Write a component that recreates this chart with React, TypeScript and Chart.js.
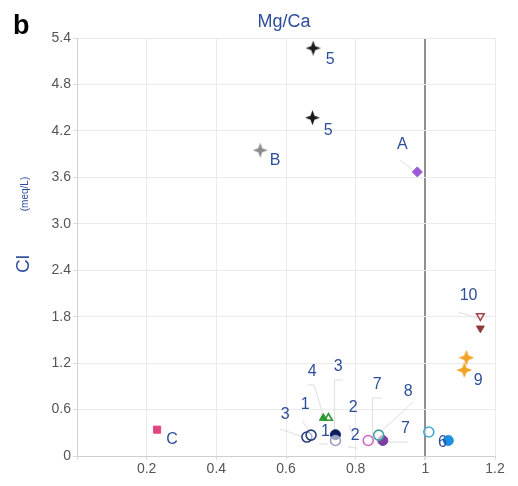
import React, { useEffect, useRef } from 'react';
import { Chart, registerables } from 'chart.js';

Chart.register(...registerables);

// ---- axis ranges / ticks ----
const xRange = [0, 1.2];
const xStep = 0.2;
const yRange = [0, 5.4];
const yStep = 0.6;

// ---- series (x = Mg/Ca, y = Cl meq/L) ----
const site5 = [{ x: 0.678, y: 5.27 }, { x: 0.676, y: 4.37 }];
const siteB = [{ x: 0.526, y: 3.95 }];
const siteA = [{ x: 0.977, y: 3.67 }];
const siteC = [{ x: 0.23, y: 0.34 }];
const site10Open = [{ x: 1.158, y: 1.81 }];
const site10Filled = [{ x: 1.158, y: 1.65 }];
const site9 = [{ x: 1.118, y: 1.27 }, { x: 1.112, y: 1.11 }];
const site3 = [{ x: 0.66, y: 0.245 }, { x: 0.672, y: 0.27 }];
const site4Filled = [{ x: 0.707, y: 0.49 }];
const site4Open = [{ x: 0.722, y: 0.49 }];
const site1Open = [{ x: 0.742, y: 0.2 }];
const site1Filled = [{ x: 0.742, y: 0.275 }];
const site2Open = [{ x: 0.836, y: 0.2 }];
const site8Open = [{ x: 0.866, y: 0.27 }];
const site2Filled = [{ x: 0.878, y: 0.2 }];
const site7Open = [{ x: 1.01, y: 0.31 }];
const site6Filled = [{ x: 1.066, y: 0.2 }];

// ---- point annotations (data units) ----
const labelTexts = ['5', '5', 'B', 'A', 'C', '10', '9', '3', '1', '4', '3', '2', '1', '2', '7', '8', '7', '6'];
const labelX = [0.727, 0.721, 0.569, 0.934, 0.273, 1.124, 1.152, 0.598, 0.655, 0.675, 0.75, 0.793, 0.713, 0.799, 0.862, 0.951, 0.943, 1.049];
const labelY = [5.12, 4.21, 3.82, 4.02, 0.21, 2.07, 0.98, 0.53, 0.66, 1.09, 1.15, 0.62, 0.31, 0.27, 0.92, 0.83, 0.36, 0.17];

// leader lines: polyline vertices in data units
const leaderLines: number[][][] = [
  [[0.928, 3.82], [0.966, 3.69]],
  [[0.661, 0.917], [0.681, 0.917], [0.707, 0.517]],
  [[0.764, 0.982], [0.739, 0.982], [0.739, 0.336]],
  [[0.583, 0.349], [0.649, 0.245]],
  [[0.647, 0.452], [0.664, 0.336]],
  [[0.782, 0.4], [0.796, 0.2]],
  [[0.695, 0.155], [0.72, 0.155]],
  [[0.876, 0.75], [0.848, 0.75], [0.848, 0.207]],
  [[0.966, 0.7], [0.871, 0.31]],
  [[0.894, 0.18], [0.951, 0.18]],
  [[1.095, 1.86], [1.149, 1.78]],
  [[0.776, 0.12], [0.805, 0.1]],
];

const FONT = '"Liberation Sans", Arial, Helvetica, sans-serif';
const BLUE = '#2d4e9a';

function makeSparkle(color: string, size: number) {
  const c = document.createElement('canvas');
  c.width = size;
  c.height = size;
  const ctx = c.getContext('2d')!;
  const cx = size / 2;
  const R = size / 2;
  const r = size * 0.19;
  ctx.beginPath();
  for (let i = 0; i < 8; i++) {
    const a = -Math.PI / 2 + (i * Math.PI) / 4;
    const rad = i % 2 === 0 ? R : r;
    ctx.lineTo(cx + rad * Math.cos(a), cx + rad * Math.sin(a));
  }
  ctx.closePath();
  ctx.fillStyle = color;
  ctx.fill();
  return c;
}

const overlayPlugin = {
  id: 'overlay',
  beforeDatasetsDraw(chart: any) {
    const { ctx, scales } = chart;
    const xs = scales.x;
    const ys = scales.y;
    ctx.save();
    ctx.strokeStyle = '#dedede';
    ctx.lineWidth = 1;
    leaderLines.forEach((pl) => {
      ctx.beginPath();
      pl.forEach((p, i) => {
        const px = xs.getPixelForValue(p[0]);
        const py = ys.getPixelForValue(p[1]);
        if (i === 0) ctx.moveTo(px, py);
        else ctx.lineTo(px, py);
      });
      ctx.stroke();
    });
    ctx.restore();
  },
  afterDraw(chart: any) {
    const { ctx, scales, chartArea } = chart;
    const xs = scales.x;
    const ys = scales.y;
    ctx.save();
    // point labels
    ctx.fillStyle = BLUE;
    ctx.font = `16px ${FONT}`;
    ctx.textAlign = 'center';
    ctx.textBaseline = 'middle';
    labelTexts.forEach((t, i) => {
      ctx.fillText(t, xs.getPixelForValue(labelX[i]), ys.getPixelForValue(labelY[i]));
    });
    // title
    ctx.font = `18px ${FONT}`;
    ctx.textBaseline = 'alphabetic';
    ctx.fillText('Mg/Ca', (chartArea.left + chartArea.right) / 2 - 2, 27);
    // panel letter
    ctx.fillStyle = '#000';
    ctx.font = `bold 27px ${FONT}`;
    ctx.textAlign = 'left';
    ctx.fillText('b', 13, 34);
    // y-axis titles (rotated)
    ctx.fillStyle = BLUE;
    ctx.save();
    ctx.translate(24, 264);
    ctx.rotate(-Math.PI / 2);
    ctx.textAlign = 'center';
    ctx.textBaseline = 'middle';
    ctx.font = `19px ${FONT}`;
    ctx.fillText('Cl', 0, 0);
    ctx.restore();
    ctx.save();
    ctx.translate(25, 194);
    ctx.rotate(-Math.PI / 2);
    ctx.textAlign = 'center';
    ctx.textBaseline = 'middle';
    ctx.font = `10px ${FONT}`;
    ctx.fillText('(meq/L)', 0, 0);
    ctx.restore();
    ctx.restore();
  },
};

export default function App() {
  const ref = useRef<HTMLCanvasElement | null>(null);

  useEffect(() => {
    if (!ref.current) return;
    const starBlack = makeSparkle('#1b1b1b', 15);
    const starGray = makeSparkle('#8c8c8c', 15);
    const starOrange = makeSparkle('#f2a224', 16);

    const circleOpen = (color: string, data: any[]) => ({
      data,
      pointStyle: 'circle',
      pointRadius: 5,
      backgroundColor: 'rgba(255,255,255,0.6)',
      borderColor: color,
      borderWidth: 1.6,
    });
    const circleFilled = (color: string, data: any[]) => ({
      data,
      pointStyle: 'circle',
      pointRadius: 5,
      backgroundColor: color,
      borderColor: color,
      borderWidth: 1,
    });

    const chart = new Chart(ref.current, {
      type: 'scatter',
      data: {
        datasets: [
          { data: site5, pointStyle: starBlack, pointRadius: 7 },
          { data: siteB, pointStyle: starGray, pointRadius: 7 },
          { data: siteA, pointStyle: 'rectRot', pointRadius: 5, backgroundColor: '#9b5ad8', borderColor: '#9b5ad8' },
          { data: siteC, pointStyle: 'rect', pointRadius: 5, backgroundColor: '#e2447f', borderColor: '#e2447f' },
          { data: site10Open, pointStyle: 'triangle', rotation: 180, pointRadius: 4.5, backgroundColor: '#fff', borderColor: '#a5474a', borderWidth: 1.5 },
          { data: site10Filled, pointStyle: 'triangle', rotation: 180, pointRadius: 4.5, backgroundColor: '#8e3a3c', borderColor: '#8e3a3c' },
          { data: site9, pointStyle: starOrange, pointRadius: 7 },
          circleOpen('#283f7a', site3),
          { data: site4Filled, pointStyle: 'triangle', pointRadius: 4.5, backgroundColor: '#2a9a2e', borderColor: '#2a9a2e' },
          { data: site4Open, pointStyle: 'triangle', pointRadius: 4.5, backgroundColor: '#fff', borderColor: '#2a9a2e', borderWidth: 1.6 },
          circleOpen('#9a9ccc', site1Open),
          circleFilled('#0c1c5c', site1Filled),
          circleOpen('#d265c8', site2Open),
          circleOpen('#3fa4a0', site8Open),
          circleFilled('#7c3e9e', site2Filled),
          circleOpen('#44a9d8', site7Open),
          circleFilled('#1b8fe2', site6Filled),
        ],
      },
      options: {
        animation: false,
        responsive: false,
        devicePixelRatio: 1,
        layout: { padding: { top: 38, right: 23, left: 0, bottom: 0 } },
        plugins: { legend: { display: false }, tooltip: { enabled: false }, title: { display: false } },
        scales: {
          x: {
            type: 'linear',
            min: xRange[0],
            max: xRange[1],
            ticks: {
              stepSize: xStep,
              color: '#555',
              font: { family: FONT, size: 14 },
              padding: 1,
              maxRotation: 0,
              callback: (v: any) => (Math.abs(v) < 1e-9 ? '' : String(Math.round(v * 10) / 10)),
            },
            grid: {
              color: (c: any) => (c.tick && Math.abs(c.tick.value - 1) < 1e-9 ? '#8f8f8f' : '#ebebeb'),
              lineWidth: (c: any) => (c.tick && Math.abs(c.tick.value - 1) < 1e-9 ? 2 : 1),
              tickLength: 4,
              tickColor: '#dcdcdc',
            },
            border: { color: '#cfcfcf', width: 1 },
            afterFit: (s: any) => {
              s.height = 30;
            },
          },
          y: {
            type: 'linear',
            min: yRange[0],
            max: yRange[1],
            ticks: {
              stepSize: yStep,
              color: '#555',
              font: { family: FONT, size: 14 },
              padding: 2,
              callback: (v: any) => (Math.abs(v) < 1e-9 ? '0' : Number(v).toFixed(1)),
            },
            grid: { color: '#ebebeb', tickLength: 4, tickColor: '#dcdcdc' },
            border: { color: '#cfcfcf', width: 1 },
            afterFit: (s: any) => {
              s.width = 77;
            },
          },
        },
      },
      plugins: [overlayPlugin],
    } as any);
    return () => chart.destroy();
  }, []);

  return (
    <div style={{ position: 'absolute', left: 0, top: 0, width: 518, height: 486, background: '#fff' }}>
      <canvas ref={ref} width={518} height={486} style={{ width: 518, height: 486, display: 'block' }} />
    </div>
  );
}
